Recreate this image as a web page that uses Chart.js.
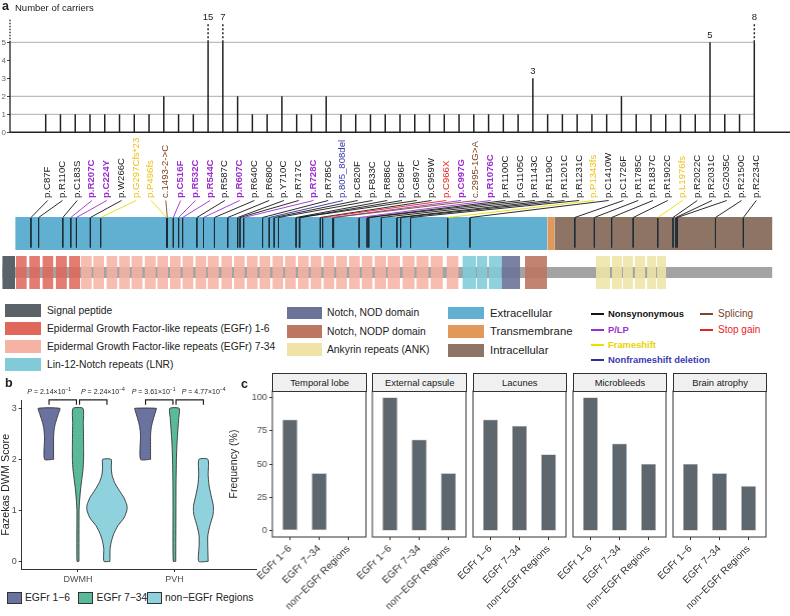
<!DOCTYPE html>
<html>
<head>
<meta charset="utf-8">
<title>NOTCH3 variants</title>
<script src="https://cdn.jsdelivr.net/npm/chart.js@4.4.1/dist/chart.umd.min.js"></script>
<style>
  html, body { margin: 0; padding: 0; background: #fff; }
  #page { position: relative; width: 790px; height: 616px; overflow: hidden;
          font-family: "Liberation Sans", Arial, Helvetica, sans-serif; color: #222; }
  #page canvas { position: absolute; }
  .txt { position: absolute; white-space: nowrap; line-height: 1; }
  .sw { position: absolute; }
  .strip { position: absolute; box-sizing: border-box; border: 1px solid #333; background: #f0f0f0;
           font-size: 9.4px; text-align: center; color: #1a1a1a; }
  sup { font-size: 5px; vertical-align: 3px; }
</style>
</head>
<body>
<div id="page"></div>
<script>
// ---------- panel a : variants and carriers ----------
const MUT_LABELS = ['p.C87F','p.R110C','p.C183S','p.R207C','p.C224Y','p.W266C','p.G297Cfs*23','p.P496fs',
  'c.1493-2->C','p.C516F','p.R532C','p.R544C','p.R587C','p.R607C','p.R640C','p.R680C','p.Y710C','p.R717C',
  'p.R728C','p.R785C','p.805_808del','p.C820F','p.F833C','p.R886C','p.C896F','p.G897C','p.C959W','p.C966X',
  'p.C997G','c.2995-1G>A','p.R1076C','p.R1100C','p.G1105C','p.R1143C','p.R1190C','p.R1201C','p.R1231C',
  'p.P1343fs','p.C1410W','p.C1726F','p.R1785C','p.R1837C','p.R1902C','p.L1976fs','p.R2022C','p.R2031C',
  'p.G2035C','p.R2150C','p.R2234C'];
const MUT_POS = [87,110,183,207,224,266,297,496,498,516,532,544,587,607,640,680,710,717,728,785,
  805,820,833,886,896,897,959,966,997,999,1076,1100,1105,1143,1190,1201,1231,1343,1410,1726,
  1785,1837,1902,1976,2022,2031,2035,2150,2234];
// N nonsynonymous, P P/LP, F frameshift, D nonframeshift deletion, S splicing, X stop gain
const MUT_TYPE = 'NNNPPNFFSPPPNPNNNNPNDNNNNNNXPSPNNNNNNFNNNNNFNNNNN'.split('');
const CARRIERS = [1,1,1,1,1,1,1,1,2,1, 1,15,7,2,1,1,2,1,1,2, 1,1,1,1,1,1,1,1,1,1,
  1,1,1,3,1,1,1,1,1,2, 1,1,1,1,1,5,1,1,8];
const GRID_LEVELS = [1, 2, 5];
const CARRIER_TICKS = [0, 1, 2, 3, 4, 5];

// protein (NOTCH3, aa)
const PROTEIN_LEN = 2321;
const SIGNAL_RANGE = [1, 39];
const TOPO_NAMES = ['Extracellular', 'Transmembrane', 'Intracellular'];
const TOPO_START = [40, 1644, 1665];
const TOPO_END = [1643, 1664, 2321];
const EGF_START = [42,82,122,162,202, 238,275,315,353,390,430,468,506,544,583,620,661,699,738,
  776,815,853,892,930,969,1007,1046,1084,1123, 1162,1207,1249,1292,1340];
const EGF_END = [74,114,154,195,235, 270,307,347,385,423,463,500,538,576,615,653,693,731,770,
  808,847,885,924,962,1001,1039,1078,1116,1157, 1199,1243,1285,1328,1375];
const EGF_EARLY_COUNT = 5;
const LNR_START = [1388, 1431, 1467];
const LNR_END = [1428, 1462, 1506];
const NOD_RANGE = [1506, 1561];
const NODP_RANGE = [1576, 1642];
const ANK_START = [1790, 1838, 1871, 1907, 1944, 1974];
const ANK_END = [1832, 1868, 1901, 1938, 1971, 2001];

// ---------- panel b : Fazekas score violins ----------
const VIOLIN_GROUPS = ['DWMH', 'PVH'];
const REGIONS = ['EGFr 1\u22126', 'EGFr 7\u221234', 'non\u2212EGFr Regions'];
const SCORE_TICKS = [0, 1, 2, 3];
// order: DWMH (EGFr 1-6, 7-34, non), PVH (EGFr 1-6, 7-34, non)
const VIOLIN_Y = [
  [2, 2.4, 2.5, 2.6, 2.7, 2.8, 2.9, 3],
  [0, 1, 1.2, 1.4, 1.6, 1.8, 2, 2.3, 2.7, 3],
  [0, 0.25, 0.4, 0.55, 0.7, 0.85, 1.0, 1.1, 1.25, 1.4, 1.55, 1.7, 1.85, 2],
  [2, 2.45, 2.55, 2.65, 2.75, 2.85, 2.95, 3],
  [0, 1, 1.5, 2, 2.3, 2.6, 2.8, 3],
  [0, 0.3, 0.5, 0.7, 0.9, 1.0, 1.1, 1.3, 1.5, 1.7, 2]
];
const VIOLIN_HALFWIDTH = [
  [0.047, 0.047, 0.049, 0.054, 0.065, 0.081, 0.098, 0.112],
  [0.010, 0.011, 0.017, 0.026, 0.039, 0.052, 0.058, 0.058, 0.055, 0.052],
  [0.031, 0.033, 0.047, 0.073, 0.114, 0.176, 0.207, 0.207, 0.176, 0.124, 0.078, 0.052, 0.045, 0.044],
  [0.052, 0.052, 0.055, 0.062, 0.075, 0.090, 0.106, 0.112],
  [0.013, 0.015, 0.016, 0.020, 0.026, 0.036, 0.044, 0.049],
  [0.049, 0.045, 0.045, 0.067, 0.098, 0.104, 0.102, 0.078, 0.057, 0.049, 0.047]
];
const P_VALUES = [['2.14', '-1'], ['2.24', '-4'], ['3.61', '-1'], ['4.77', '-4']];

// ---------- panel c : frequency per facet ----------
const FACETS = ['Temporal lobe', 'External capsule', 'Lacunes', 'Microbleeds', 'Brain atrophy'];
const FREQ_EGF_1_6 = [83.3, 100, 83.3, 100, 50];
const FREQ_EGF_7_34 = [42.9, 68.2, 78.6, 65.2, 42.9];
const FREQ_NON_EGF = [0, 42.9, 57.1, 50, 33.3];
const FREQ_TICKS = [0, 25, 50, 75, 100];

// ---------- styles ----------
const FONT = '"Liberation Sans", Arial, Helvetica, sans-serif';
const COL = {
  signal: '#5b6369', egfA: '#e0675b', egfB: '#f6b2a3', lnr: '#80cbd7', nod: '#6b7399',
  nodp: '#bb7761', ank: '#efe4a6', extra: '#62b0d1', tm: '#e1995b', intra: '#8d7464', backbone: '#a3a3a3'
};
const TYPE_STYLE = {
  N: {line: '#151515', text: '#222222', bold: false},
  P: {line: '#9b30d0', text: '#9b30d0', bold: true},
  F: {line: '#e6e000', text: '#efc21c', bold: false},
  D: {line: '#2e2e9e', text: '#3a3ab4', bold: false},
  S: {line: '#7b4a2a', text: '#7b3f1f', bold: false},
  X: {line: '#e8231f', text: '#e8231f', bold: false}
};
const VIOLIN_COLORS = ['#6a72a0', '#5bb99b', '#8fd1dd'];

Chart.defaults.font.family = FONT;
Chart.defaults.animation = false;
Chart.defaults.responsive = false;
Chart.defaults.events = [];
Chart.defaults.plugins.legend.display = false;
Chart.defaults.plugins.tooltip.enabled = false;

const page = document.getElementById('page');

function makeCanvas(left, top, w, h) {
  const c = document.createElement('canvas');
  c.width = w; c.height = h;
  Object.assign(c.style, {left: left + 'px', top: top + 'px', width: w + 'px', height: h + 'px'});
  page.appendChild(c);
  return c;
}
function addText(html, left, top, css) {
  const d = document.createElement('div');
  d.className = 'txt';
  d.innerHTML = html;
  Object.assign(d.style, {left: left + 'px', top: top + 'px'}, css || {});
  page.appendChild(d);
  return d;
}
function addBox(left, top, w, h, css) {
  const d = document.createElement('div');
  d.className = 'sw';
  Object.assign(d.style, {left: left + 'px', top: top + 'px', width: w + 'px', height: h + 'px'}, css || {});
  page.appendChild(d);
  return d;
}
function lineSet(data, color, width, extra) {
  return Object.assign({data, showLine: true, borderColor: color, borderWidth: width,
    pointRadius: 0, fill: false, tension: 0}, extra || {});
}
function areaSet(data, color, extra) {
  return Object.assign({data, showLine: true, borderColor: 'rgba(0,0,0,0)', borderWidth: 0,
    backgroundColor: color, fill: 'shape', pointRadius: 0, tension: 0}, extra || {});
}
function rect(s, e, top, bottom) {
  return [{x: s, y: top}, {x: e, y: top}, {x: e, y: bottom}, {x: s, y: bottom}, {x: s, y: top}];
}
function fixedTicks(values) {
  return scale => { scale.ticks = values.map(v => ({value: v})); };
}

// ================= panel a: lollipop =================
const IDX_MIN = -2.418, IDX_MAX = 50.418;
const CAP = 5, EXT_TOP = 6.0, CAP_LABEL = 6.38;

const stemPts = [], extPts = [], gridPts = [];
CARRIERS.forEach((v, i) => {
  stemPts.push({x: i, y: 0}, {x: i, y: Math.min(v, CAP)}, {x: i, y: null});
  if (v > CAP) extPts.push({x: i, y: CAP}, {x: i, y: EXT_TOP}, {x: i, y: null});
});
GRID_LEVELS.forEach(l => gridPts.push({x: IDX_MIN, y: l}, {x: CARRIERS.length - 1, y: l}, {x: IDX_MIN, y: null}));

const carrierLabels = {
  id: 'carrierLabels',
  afterDatasetsDraw(chart) {
    const {ctx, scales: {x, y}} = chart;
    ctx.save();
    ctx.font = '9.5px ' + FONT;
    ctx.fillStyle = '#222';
    ctx.textAlign = 'center';
    ctx.textBaseline = 'middle';
    CARRIERS.forEach((v, i) => {
      if (v < 3) return;
      const yv = v > CAP ? CAP_LABEL : v + 0.38;
      ctx.fillText(String(v), x.getPixelForValue(i), y.getPixelForValue(yv));
    });
    ctx.restore();
  }
};

new Chart(makeCanvas(0, 0, 790, 140), {
  type: 'scatter',
  data: {datasets: [
    lineSet(stemPts, '#222', 1.5),
    lineSet(extPts, '#222', 1.5, {borderDash: [2, 2]}),
    lineSet([{x: IDX_MIN, y: 0}, {x: IDX_MIN, y: CAP}], '#222', 1.3, {clip: false}),
    lineSet([{x: IDX_MIN, y: CAP}, {x: IDX_MIN, y: 6.3}], '#222', 1.3, {clip: false, borderDash: [1.5, 1.5]}),
    lineSet([{x: IDX_MIN, y: 0}, {x: IDX_MAX, y: 0}], '#222', 1.6, {clip: false}),
    lineSet(gridPts, '#bcbcbc', 1.3)
  ]},
  options: {
    layout: {padding: {top: 6.3, bottom: 7.7, left: 0, right: 0}},
    scales: {
      x: {type: 'linear', min: IDX_MIN, max: IDX_MAX, display: false},
      y: {type: 'linear', min: 0, max: 7,
        afterBuildTicks: fixedTicks(CARRIER_TICKS),
        afterFit: s => { s.width = 10; },
        ticks: {font: {size: 8}, color: '#666', padding: 1},
        grid: {drawOnChartArea: false, tickLength: 3, color: '#444'},
        border: {display: false}}
    }
  },
  plugins: [carrierLabels]
});

// ================= panel a: protein diagram =================
const ROW = {labelBase: 198, connTop: 200.5, connBot: 217.5, topoTop: 217, topoBot: 250,
  tickTop: 218, tickBot: 247.5, domTop: 256, domBot: 289, bbTop: 267, bbBot: 278};
const alpha = (hex, a) => {
  const n = parseInt(hex.slice(1), 16);
  return `rgba(${n >> 16},${(n >> 8) & 255},${n & 255},${a})`;
};

const protSets = [];
protSets.push(areaSet(rect(1, PROTEIN_LEN, ROW.bbTop, ROW.bbBot), COL.backbone));
protSets.push(areaSet(rect(SIGNAL_RANGE[0], SIGNAL_RANGE[1], ROW.domTop, ROW.domBot), COL.signal));
EGF_START.forEach((s, i) => protSets.push(areaSet(rect(s, EGF_END[i], ROW.domTop, ROW.domBot),
  alpha(i < EGF_EARLY_COUNT ? COL.egfA : COL.egfB, 0.86))));
LNR_START.forEach((s, i) => protSets.push(areaSet(rect(s, LNR_END[i], ROW.domTop, ROW.domBot), alpha(COL.lnr, 0.88))));
protSets.push(areaSet(rect(NOD_RANGE[0], NOD_RANGE[1], ROW.domTop, ROW.domBot), alpha(COL.nod, 0.9)));
protSets.push(areaSet(rect(NODP_RANGE[0], NODP_RANGE[1], ROW.domTop, ROW.domBot), alpha(COL.nodp, 0.9)));
ANK_START.forEach((s, i) => protSets.push(areaSet(rect(s, ANK_END[i], ROW.domTop, ROW.domBot), alpha(COL.ank, 0.88))));
const TOPO_COLORS = [COL.extra, COL.tm, COL.intra];
TOPO_START.forEach((s, i) => protSets.push(areaSet(rect(s, TOPO_END[i], ROW.topoTop, ROW.topoBot), TOPO_COLORS[i])));
const tickPts = [];
MUT_POS.forEach(p => tickPts.push({x: p, y: ROW.tickTop}, {x: p, y: ROW.tickBot}, {x: p, y: null}));
protSets.push(lineSet(tickPts, '#1e2d36', 1));
protSets.forEach(d => { d.xAxisID = 'xa'; });
protSets.reverse(); // first dataset is painted last

const mutationLabels = {
  id: 'mutationLabels',
  afterDatasetsDraw(chart) {
    const {ctx, scales} = chart;
    const xi = scales.xi, xa = scales.xa, y = scales.y;
    MUT_LABELS.forEach((lab, i) => {
      const st = TYPE_STYLE[MUT_TYPE[i]];
      const lx = xi.getPixelForValue(i);
      ctx.save();
      ctx.strokeStyle = st.line;
      ctx.lineWidth = 0.9;
      ctx.beginPath();
      ctx.moveTo(lx + 2, y.getPixelForValue(ROW.connTop));
      ctx.lineTo(xa.getPixelForValue(MUT_POS[i]), y.getPixelForValue(ROW.connBot));
      ctx.stroke();
      ctx.translate(lx + 1.8, y.getPixelForValue(ROW.labelBase));
      ctx.rotate(-Math.PI / 2);
      ctx.font = (st.bold ? 'bold ' : '') + '9.6px ' + FONT;
      ctx.fillStyle = st.text;
      ctx.textAlign = 'left';
      ctx.textBaseline = 'middle';
      ctx.fillText(lab, 0, 0);
      ctx.restore();
    });
  }
};

new Chart(makeCanvas(0, 130, 790, 165), {
  type: 'scatter',
  data: {datasets: protSets},
  options: {
    layout: {padding: 0},
    scales: {
      x: {display: false},
      xa: {type: 'linear', axis: 'x', min: -6.33, max: 2374.6, display: false},
      xi: {type: 'linear', axis: 'x', min: -3.0957, max: IDX_MAX, display: false},
      y: {type: 'linear', min: 130, max: 295, reverse: true, display: false}
    }
  },
  plugins: [mutationLabels]
});

// panel a text + legend
addText('a', 2, 0, {fontWeight: 'bold', fontSize: '12.5px'});
addText('Number of carriers', 15, 3, {fontSize: '9.5px', color: '#222'});

const LEG_COL1 = [['Signal peptide', COL.signal],
  ['Epidermal Growth Factor-like repeats (EGFr) 1-6', COL.egfA],
  ['Epidermal Growth Factor-like repeats (EGFr) 7-34', COL.egfB],
  ['Lin-12-Notch repeats (LNR)', COL.lnr]];
LEG_COL1.forEach(([t, c], r) => {
  const top = 304 + 18 * r;
  addBox(5, top, 35.7, 13, {background: c});
  addText(t, 47, top + 1.5, {fontSize: '10.3px'});
});
const LEG_COL2 = [['Notch, NOD domain', COL.nod], ['Notch, NODP domain', COL.nodp], ['Ankyrin repeats (ANK)', COL.ank]];
LEG_COL2.forEach(([t, c], r) => {
  const top = 306.7 + 18.3 * r;
  addBox(287.3, top, 34.4, 12.8, {background: c});
  addText(t, 327, top + 1.5, {fontSize: '10.3px'});
});
const LEG_COL3 = [[TOPO_NAMES[0], COL.extra], [TOPO_NAMES[1], COL.tm], [TOPO_NAMES[2], COL.intra]];
LEG_COL3.forEach(([t, c], r) => {
  const top = 306.7 + 18.6 * r;
  addBox(448.3, top, 35.7, 12.8, {background: c});
  addText(t, 490, top + 0.8, {fontSize: '11.3px'});
});
const LEG_TYPES = [['Nonsynonymous', 'N', 591, 608, 314], ['P/LP', 'P', 591, 608, 330],
  ['Frameshift', 'F', 591, 608, 345], ['Nonframeshift deletion', 'D', 591, 608, 360],
  ['Splicing', 'S', 700, 718, 314], ['Stop gain', 'X', 700, 718, 330]];
LEG_TYPES.forEach(([t, k, lx, tx, cy]) => {
  const st = TYPE_STYLE[k];
  addBox(lx, cy - 1.25, 12.5, 2.5, {background: k === 'F' ? '#e8e000' : st.line});
  const bold = lx < 650;
  addText(t, tx, cy - 5.5, {fontSize: bold ? '9.4px' : '10px', fontWeight: bold ? 'bold' : 'normal',
    color: k === 'N' ? '#111' : (k === 'F' ? '#e6d400' : st.text)});
});

// ================= panel b: violins =================
const B_XMIN = 0.4166, B_XMAX = 2.852, DODGE = 0.3;
const vSets = [];
VIOLIN_Y.forEach((ys, k) => {
  const g = Math.floor(k / 3), r = k % 3;
  const cx = g + 1 + (r - 1) * DODGE;
  const ws = VIOLIN_HALFWIDTH[k];
  const pts = [];
  ys.forEach((y, j) => pts.push({x: cx + ws[j], y}));
  for (let j = ys.length - 1; j >= 0; j--) pts.push({x: cx - ws[j], y: ys[j]});
  pts.push({x: cx + ws[0], y: ys[0]});
  vSets.push({data: pts, showLine: true, borderColor: '#333', borderWidth: 0.9,
    backgroundColor: VIOLIN_COLORS[r], fill: 'shape', pointRadius: 0, tension: 0.2});
});
const BR_TOP = 3.165, BR_TIP = 3.073, BR_GAP = 0.016;
VIOLIN_GROUPS.forEach((g, gi) => {
  [[0, 1], [1, 2]].forEach(([a, b]) => {
    const x1 = gi + 1 + (a - 1) * DODGE + (a === 1 ? BR_GAP : 0);
    const x2 = gi + 1 + (b - 1) * DODGE - (b === 1 ? BR_GAP : 0);
    vSets.push(lineSet([{x: x1, y: BR_TIP}, {x: x1, y: BR_TOP}, {x: x2, y: BR_TOP}, {x: x2, y: BR_TIP}],
      '#222', 1.2, {clip: false}));
  });
});

new Chart(makeCanvas(0, 385, 262, 200), {
  type: 'scatter',
  data: {datasets: vSets},
  options: {
    layout: {padding: {top: 15.7, right: 5.3, left: 0, bottom: 0}},
    scales: {
      x: {type: 'linear', min: B_XMIN, max: B_XMAX,
        afterBuildTicks: fixedTicks([1, 2]),
        afterFit: s => { s.height = 16; s.paddingLeft = 0; s.paddingRight = 0; },
        ticks: {callback: v => VIOLIN_GROUPS[v - 1], font: {size: 9}, color: '#4d4d4d', padding: 2, maxRotation: 0},
        grid: {drawOnChartArea: false, tickLength: 3, color: '#333'},
        border: {display: true, color: '#333', width: 1}},
      y: {type: 'linear', min: -0.15, max: 3.15,
        afterBuildTicks: fixedTicks(SCORE_TICKS),
        afterFit: s => { s.width = 21.7; s.paddingTop = 0; s.paddingBottom = 0; },
        ticks: {font: {size: 9}, color: '#4d4d4d', padding: 2},
        grid: {drawOnChartArea: false, tickLength: 3, color: '#333'},
        border: {display: true, color: '#333', width: 1},
        title: {display: true, text: 'Fazekas DWM Score', font: {size: 10.8}, color: '#222', padding: {top: 0, bottom: 0}}}
    }
  }
});

addText('b', 5, 377, {fontWeight: 'bold', fontSize: '12.5px'});
const P_LEFT = [27.3, 81, 131.7, 181.7];
P_VALUES.forEach(([m, e], i) => {
  addText('<i>P</i> = ' + m + '\u00d710<sup>' + e.replace('-', '\u2212') + '</sup>', P_LEFT[i], 386.5, {fontSize: '7px', color: '#222'});
});
const B_LEG_X = [6.7, 78.3, 146.7];
REGIONS.forEach((t, r) => {
  addBox(B_LEG_X[r], 592.3, 15, 11.7, {background: VIOLIN_COLORS[r], border: '1px solid #333', boxSizing: 'border-box'});
  addText(t, B_LEG_X[r] + 18.3, 593, {fontSize: '10.3px', color: '#222'});
});

// ================= panel c: faceted bars =================
const C_LEFT = 272.3, C_PITCH = 100.1, C_W = 93.7, C_TOP = 389, C_PAD = 50;
const frame = {
  id: 'frame',
  afterDraw(chart) {
    const {ctx, chartArea: a} = chart;
    ctx.save();
    ctx.strokeStyle = '#333';
    ctx.lineWidth = 1;
    ctx.strokeRect(a.left, a.top, a.right - a.left, a.bottom - a.top);
    ctx.restore();
  }
};
FACETS.forEach((name, k) => {
  const pl = C_LEFT + k * C_PITCH;
  const vals = [FREQ_EGF_1_6[k], FREQ_EGF_7_34[k], FREQ_NON_EGF[k]];
  const first = k === 0;
  new Chart(makeCanvas(pl - C_PAD, C_TOP, C_PAD + C_W + 3, 616 - C_TOP), {
    type: 'bar',
    data: {datasets: [{
      data: vals.map((v, i) => ({x: i + 1, y: v})),
      backgroundColor: '#5e676d', borderColor: '#cbcbcb', borderWidth: 0.8,
      borderSkipped: false, barThickness: 14.5
    }]},
    options: {
      layout: {padding: {left: first ? 0 : C_PAD, right: 3, top: 2, bottom: 0}},
      scales: {
        x: {type: 'linear', min: 0.4, max: 3.6, offset: false,
          afterBuildTicks: fixedTicks([1, 2, 3]),
          afterFit: s => { s.height = 79; s.paddingLeft = 0; s.paddingRight = 0; },
          ticks: {callback: v => REGIONS[v - 1], minRotation: 45, maxRotation: 45, autoSkip: false,
            font: {size: 10}, color: '#333', padding: 3},
          grid: {drawOnChartArea: false, tickLength: 3, color: '#333', offset: false},
          border: {display: false}},
        y: {type: 'linear', min: -5, max: 105, display: first,
          afterBuildTicks: fixedTicks(FREQ_TICKS),
          afterFit: s => { s.width = first ? C_PAD : 0; s.paddingTop = 0; s.paddingBottom = 0; },
          ticks: {font: {size: 9.3}, color: '#4d4d4d', padding: 2},
          grid: {drawOnChartArea: false, tickLength: 3, color: '#333'},
          border: {display: false},
          title: {display: first, text: 'Frequency (%)', font: {size: 10.5}, color: '#222', padding: {top: 6, bottom: 0}}}
      }
    },
    plugins: [frame]
  });
  const s = document.createElement('div');
  s.className = 'strip';
  s.textContent = name;
  Object.assign(s.style, {left: pl + 'px', top: '372.5px', width: (C_W + 1) + 'px', height: '19px', lineHeight: '17px'});
  page.appendChild(s);
});
addText('c', 241, 378, {fontWeight: 'bold', fontSize: '12.5px'});
</script>
</body>
</html>
